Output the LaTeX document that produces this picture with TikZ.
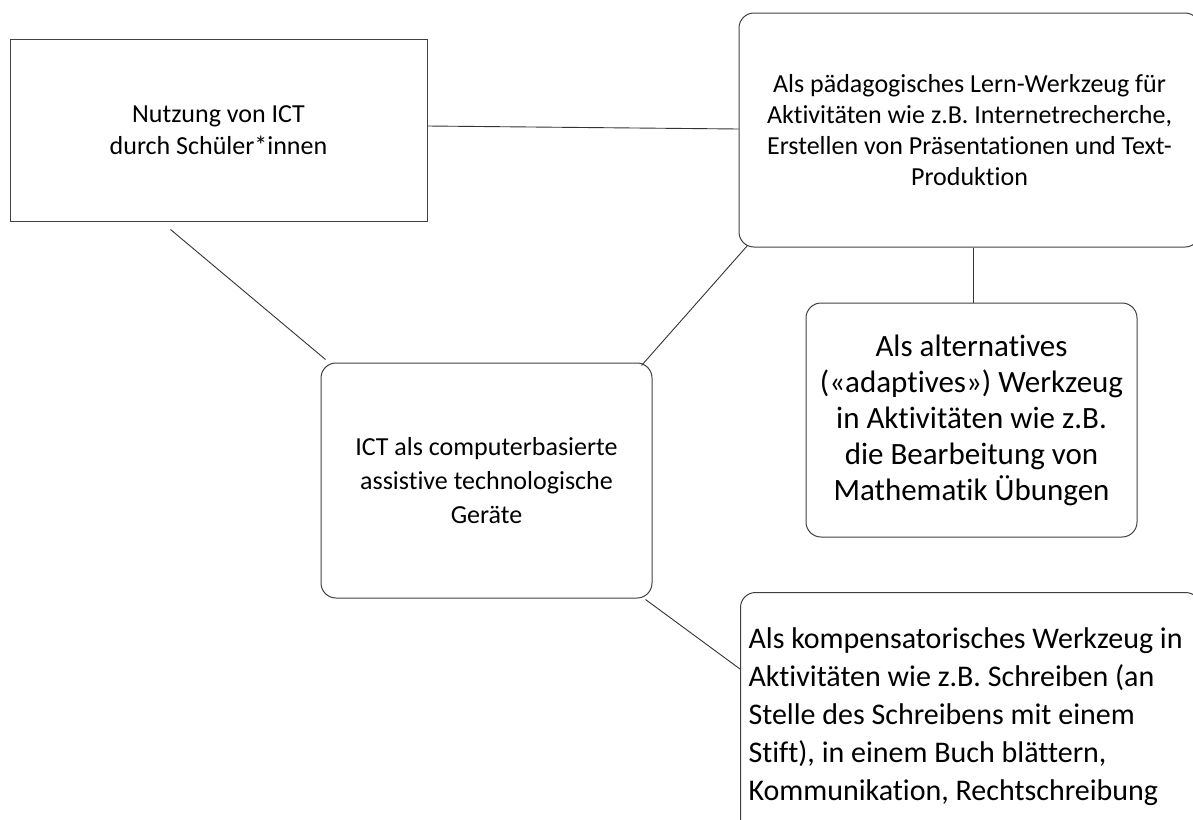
\documentclass[tikz,border=0pt]{standalone}
\usepackage{fontspec}
\setmainfont{Carlito}[Ligatures={NoCommon}]
\usetikzlibrary{calc}
\begin{document}
\begin{tikzpicture}[x=1pt,y=-1pt,
  box/.style={draw=black!75, line width=1pt, rounded corners=15pt, inner sep=0pt, align=center},
  rbox/.style={draw=black!75, line width=1pt, inner sep=0pt, align=center},
  link/.style={draw=black!80, line width=0.9pt}]
\useasboundingbox (0,0) rectangle (1193,819);
\clip (0,0) rectangle (1193,819);
\node[rbox, minimum width=417pt, minimum height=182pt, font=\fontsize{26}{32}\selectfont] (A) at (218.5,130) {Nutzung von ICT\\durch Schüler*innen};
\node[box, minimum width=461pt, minimum height=234pt, font=\fontsize{26}{31}\selectfont] (B) at (969.5,130) {Als pädagogisches Lern-Werkzeug für\\Aktivitäten wie z.B. Internetrecherche,\\Erstellen von Präsentationen und Text-\\Produktion};
\node[box, minimum width=331pt, minimum height=234pt, font=\fontsize{31}{36}\selectfont] (C) at (971.5,420) {Als alternatives\\(«adaptives») Werkzeug\\in Aktivitäten wie z.B.\\die Bearbeitung von\\Mathematik Übungen};
\node[box, minimum width=331pt, minimum height=235pt, font=\fontsize{26}{34}\selectfont] (D) at (486.5,480.5) {ICT als computerbasierte\\assistive technologische\\Geräte};
\node[box, minimum width=460pt, minimum height=248pt, anchor=north west, align=flush left, text width=444pt, inner xsep=8pt, font=\fontsize{30}{38}\selectfont] (E) at (740,592) {Als kompensatorisches Werkzeug in\\Aktivitäten wie z.B. Schreiben (an\\Stelle des Schreibens mit einem\\Stift), in einem Buch blättern,\\Kommunikation, Rechtschreibung};
\draw[link] ($(A.east)+(0,-4)$) -- ($(B.west)+(0,-1)$);
\draw[link] ($(A.south west)+(161,8)$) -- ($(D.north west)+(5,-3)$);
\draw[link] ($(B.south west)+(9,-2)$) -- ($(D.north east)+(-11,3)$);
\draw[link] ($(D.south east)+(-7,1)$) -- ($(E.north west)+(0,77)$);
\draw[link] ($(B.south)+(3.5,0)$) -- ($(C.north)+(1.5,0)$);
\end{tikzpicture}
\end{document}
